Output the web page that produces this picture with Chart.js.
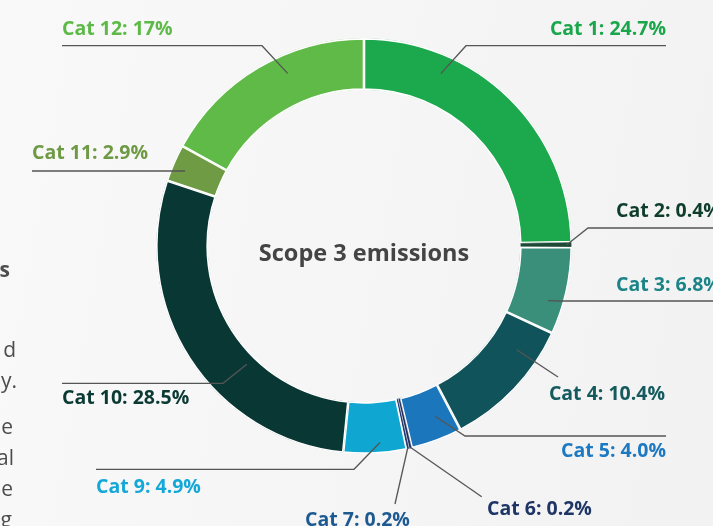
<!DOCTYPE html>
<html>
<head>
<meta charset="utf-8">
<script src="https://cdn.jsdelivr.net/npm/chart.js@4/dist/chart.umd.min.js"></script>
<style>
  html, body { margin: 0; padding: 0; }
  body {
    width: 713px; height: 526px; overflow: hidden;
    background: linear-gradient(100deg, #f9f9f9 0%, #f5f5f5 55%, #f2f2f2 100%);
  }
  #wrap { position: relative; width: 713px; height: 526px; }
</style>
</head>
<body>
<div id="wrap"><canvas id="scopeChart"></canvas></div>
<script>
// scope 3 categories and their share of emissions (%)
const categories = ['Cat 1', 'Cat 2', 'Cat 3', 'Cat 4', 'Cat 5', 'Cat 6', 'Cat 7', 'Cat 9', 'Cat 10', 'Cat 11', 'Cat 12']
const shares = [24.7, 0.4, 6.8, 10.4, 4.0, 0.2, 0.2, 4.9, 28.5, 2.9, 17]

const sliceColors = ['#1ca84c', '#1c4a36', '#3a8f7b', '#11535a', '#1b76bc', '#1c2c5c', '#25386e', '#0fa6d2', '#093834', '#6e9b44', '#5fba47']
const labelColors = ['#1aa64b', '#0f3d2b', '#1c8487', '#145a5e', '#1d79c1', '#1f3566', '#1d5a92', '#14a8d8', '#0b3a34', '#6f9a45', '#5dba47']

// leader lines: where they start inside the slice (fraction of the arc, fraction of ring depth),
// then the bend points and where the label text sits
const leaders = [
  {at: [0.27, 0.63], path: [[466, 45.7], [666, 45.7]], text: [666, 35, 'right']},
  {at: [0.5, 0.9],   path: [[588, 228], [720, 228]],   text: [616, 217, 'left']},
  {at: [0.66, 0.69], path: [[560, 301], [720, 301]],   text: [616, 291, 'left']},
  {at: [0.25, 0.55], path: [[558, 377]],               text: [665, 400, 'right']},
  {at: [0.35, 0.55], path: [[465, 436], [666, 436]],   text: [666, 457, 'right']},
  {at: [0.5, 0.97],  path: [[481.7, 496.7]],           text: [487, 515, 'left']},
  {at: [0.5, 0.97],  path: [[395, 504]],               text: [305, 526, 'left']},
  {at: [0.41, 0.79], path: [[354, 469.3], [96, 469.3]], text: [96, 493, 'left']},
  {at: [0.38, 0.2],  path: [[223, 383.3], [62, 383.3]], text: [62, 404, 'left']},
  {at: [0.42, 0.73], path: [[32, 171]],                text: [32, 159, 'left']},
  {at: [0.61, 0.63], path: [[262, 45.7], [62, 45.7]],  text: [62, 35, 'left']}
]

// tail ends of the neighbouring text column
const sideText = [
  ['s', 10, 277, 'bold 21px "Open Sans"'],
  ['d', 16, 357, '21px "Open Sans"'],
  ['y.', 17, 388, '21px "Open Sans"'],
  ['e', 13, 434, '21px "Open Sans"'],
  ['al', 14, 465, '21px "Open Sans"'],
  ['e', 13, 496, '21px "Open Sans"'],
  ['g', 12, 527, '21px "Open Sans"']
]

function fmt(v) {
  return (Number.isInteger(v) && v >= 10) ? String(v) : v.toFixed(1)
}

const leaderPlugin = {
  id: 'leaders',
  afterDatasetsDraw(chart) {
    const ctx = chart.ctx
    const arcs = chart.getDatasetMeta(0).data
    ctx.save()
    arcs.forEach((arc, i) => {
      const p = arc.getProps(['x', 'y', 'startAngle', 'endAngle', 'innerRadius', 'outerRadius'], true)
      const lead = leaders[i]
      const a = p.startAngle + lead.at[0] * (p.endAngle - p.startAngle)
      const r = p.innerRadius + lead.at[1] * (p.outerRadius - p.innerRadius)
      ctx.beginPath()
      ctx.moveTo(p.x + Math.cos(a) * r, p.y + Math.sin(a) * r)
      lead.path.forEach(pt => ctx.lineTo(pt[0], pt[1]))
      ctx.strokeStyle = '#555'
      ctx.lineWidth = 1.3
      ctx.stroke()

      ctx.font = 'bold 19.5px "Open Sans"'
      ctx.fillStyle = labelColors[i]
      ctx.textAlign = lead.text[2]
      ctx.textBaseline = 'alphabetic'
      ctx.fillText(`${categories[i]}: ${fmt(shares[i])}%`, lead.text[0], lead.text[1])
    })

    // title in the hole
    const c = arcs[0]
    ctx.font = 'bold 23.5px "Open Sans"'
    ctx.fillStyle = '#444'
    ctx.textAlign = 'center'
    ctx.textBaseline = 'middle'
    ctx.fillText('Scope 3 emissions', c.x, c.y + 8)

    ctx.fillStyle = '#4d4d4d'
    ctx.textAlign = 'right'
    ctx.textBaseline = 'alphabetic'
    sideText.forEach(t => {
      ctx.font = t[3]
      ctx.fillText(t[0], t[1], t[2])
    })
    ctx.restore()
  }
}

new Chart('scopeChart', {
  type: 'doughnut',
  data: {
    labels: categories,
    datasets: [{
      data: shares,
      backgroundColor: sliceColors,
      borderColor: '#ffffff',
      // edges kept inside each slice; thin slices get almost no edge so they still show
      borderAlign: 'inner',
      borderWidth: (c) => shares[c.dataIndex] < 1 ? 0.25 : 1.3,
      hoverOffset: 0
    }]
  },
  options: {
    responsive: true,
    maintainAspectRatio: false,
    animation: false,
    cutout: '75%',
    layout: {padding: {left: 156, right: 141, top: 38, bottom: 72}},
    plugins: {
      legend: {display: false},
      tooltip: {enabled: false}
    }
  },
  plugins: [leaderPlugin]
})
</script>
</body>
</html>
